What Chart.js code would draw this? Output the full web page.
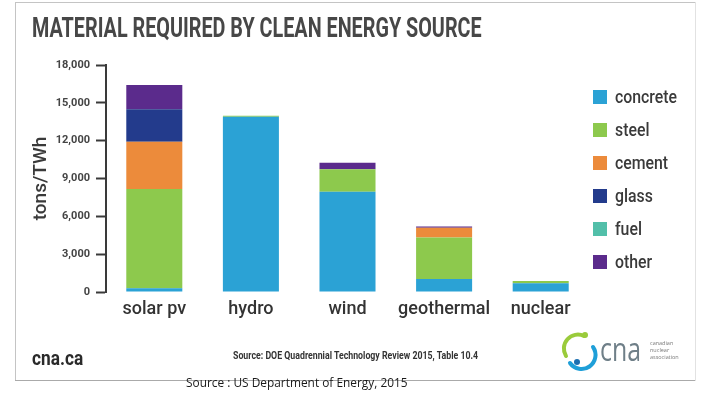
<!DOCTYPE html>
<html>
<head>
<meta charset="utf-8">
<script src="https://cdn.jsdelivr.net/npm/chart.js@4.4.1/dist/chart.umd.min.js"></script>
<style>
  html,body{margin:0;padding:0;background:#fff;}
  #wrap{position:relative;width:712px;height:396px;overflow:hidden;background:#fff;}
  #c{position:absolute;left:0;top:0;}
  .frame{position:absolute;background:#c4c4c4;}
  .txt{position:absolute;white-space:nowrap;transform-origin:0 50%;line-height:1;}
  #legend{position:absolute;left:593px;top:80px;}
  .lrow{display:flex;align-items:center;height:33px;}
  .lbox{width:14px;height:14px;margin-right:8px;}
  .ltxt{font-family:Roboto,sans-serif;font-weight:500;font-size:18px;color:#3a3a3a;transform-origin:0 50%;white-space:nowrap;}
</style>
</head>
<body>
<div id="wrap">
  <div class="frame" style="left:15px;top:2px;width:680px;height:1px;"></div>
  <div class="frame" style="left:15px;top:2px;width:1px;height:379px;"></div>
  <div class="frame" style="left:695px;top:2px;width:1px;height:379px;background:#e2e2e2;"></div>
  <div class="frame" style="left:15px;top:380px;width:680px;height:1px;background:#aaa;"></div>
  <canvas id="c" width="712" height="396"></canvas>
  <div class="txt" id="title" data-w="450" style="left:32px;top:14px;font-family:Roboto,sans-serif;font-weight:700;font-size:28px;color:#474747;">MATERIAL REQUIRED BY CLEAN ENERGY SOURCE</div>
  <div id="legend"></div>
  <div class="txt" id="site" data-w="51" style="left:32px;top:348px;font-family:Roboto,sans-serif;font-weight:700;font-size:20px;color:#2a2a2a;">cna.ca</div>
  <div class="txt" id="src1" data-w="245" style="left:233px;top:351px;font-family:Roboto,sans-serif;font-weight:700;font-size:10px;color:#333;">Source: DOE Quadrennial Technology Review 2015, Table 10.4</div>
  <div class="txt" id="src2" data-w="222" style="left:186px;top:376px;font-family:'Open Sans',sans-serif;font-size:13px;color:#1a1a1a;">Source : US Department of Energy, 2015</div>
  <svg style="position:absolute;left:558px;top:330px;" width="140" height="44" viewBox="0 0 140 44">
    <path d="M26 6 A14 14 0 0 0 8 26" fill="none" stroke="#9acb3b" stroke-width="4" stroke-linecap="round"/>
    <path d="M12 33 A14 14 0 0 0 35 17" fill="none" stroke="#1f9fd8" stroke-width="4" stroke-linecap="round"/>
    <circle cx="27" cy="5" r="3" fill="#9acb3b"/>
    <circle cx="19" cy="32" r="3" fill="#1b6fb0"/>
    <text x="42" y="31" font-family="Open Sans, sans-serif" font-size="32" fill="#6f7f88" textLength="41" lengthAdjust="spacingAndGlyphs">cna</text>
    <text x="92" y="15" font-family="Open Sans, sans-serif" font-size="5.5" fill="#7a7a7a">canadian</text>
    <text x="92" y="22" font-family="Open Sans, sans-serif" font-size="5.5" fill="#7a7a7a">nuclear</text>
    <text x="92" y="29" font-family="Open Sans, sans-serif" font-size="5.5" fill="#7a7a7a">association</text>
  </svg>
</div>
<script>
// ---- data ----
const categories = ['solar pv', 'hydro', 'wind', 'geothermal', 'nuclear'];
const concrete = [290, 13900, 7950, 1030, 690];
const steel    = [7880, 80, 1780, 3300, 180];
const cement   = [3750, 0, 0, 760, 0];
const glass    = [2570, 0, 0, 0, 0];
const fuel     = [0, 0, 0, 0, 0];
const other    = [1925, 0, 520, 110, 0];
const seriesNames = ['concrete', 'steel', 'cement', 'glass', 'fuel', 'other'];
const yTicks = [0, 3000, 6000, 9000, 12000, 15000, 18000];

const colors = {
  concrete: '#2ba2d5',
  steel: '#8dc94d',
  cement: '#ec8b3b',
  glass: '#233b8c',
  fuel: '#52bfa9',
  other: '#5b2b8c'
};
const seriesData = { concrete, steel, cement, glass, fuel, other };

const datasets = seriesNames.map(n => ({
  label: n,
  data: seriesData[n],
  backgroundColor: colors[n],
  borderWidth: 0,
  categoryPercentage: 1.0,
  barPercentage: 0.58
}));

const PAD_L = 28;
const chart = new Chart(document.getElementById('c'), {
  type: 'bar',
  data: { labels: categories, datasets },
  options: {
    responsive: false,
    animation: false,
    devicePixelRatio: 1,
    layout: { padding: { left: PAD_L, top: 65, right: 123, bottom: 74 } },
    plugins: { legend: { display: false }, tooltip: { enabled: false } },
    scales: {
      x: {
        stacked: true,
        grid: { display: false, drawTicks: false },
        border: { display: false },
        ticks: { padding: 7, color: '#333', maxRotation: 0, minRotation: 0, autoSkip: false,
                 font: { family: 'Roboto', size: 18, weight: '500' } },
        afterFit(s) { s.height = 30; }
      },
      y: {
        stacked: true,
        min: 0, max: 18000,
        afterBuildTicks(s) { s.ticks = yTicks.map(v => ({ value: v })); },
        grid: { drawOnChartArea: false, drawTicks: true, tickLength: 10, tickWidth: 2, tickColor: '#3a3a3a' },
        border: { display: true, color: '#3a3a3a', width: 2 },
        ticks: {
          padding: 6, color: '#444',
          font: { family: 'Roboto', size: 11, weight: '700' },
          callback: v => v.toLocaleString('en-US')
        },
        title: {
          display: true, text: 'tons/TWh', color: '#3a3a3a',
          font: { family: 'Roboto', size: 19, weight: '500' },
          padding: { top: 2, bottom: 0 }
        },
        afterFit(s) { s.width = 106 - PAD_L; }
      }
    }
  }
});

// HTML legend built from chart datasets
const legendEl = document.getElementById('legend');
chart.data.datasets.forEach(ds => {
  const row = document.createElement('div');
  row.className = 'lrow';
  const box = document.createElement('div');
  box.className = 'lbox';
  box.style.background = ds.backgroundColor;
  const t = document.createElement('div');
  t.className = 'ltxt';
  t.textContent = ds.label;
  row.appendChild(box); row.appendChild(t);
  legendEl.appendChild(row);
});

// fit some text widths horizontally (offsetWidth ignores transforms)
function fit() {
  document.querySelectorAll('.txt[data-w]').forEach(el => {
    const w = el.offsetWidth;
    const target = parseFloat(el.dataset.w);
    if (w > 0) el.style.transform = 'scaleX(' + (target / w) + ')';
  });
  document.querySelectorAll('.ltxt').forEach(el => { el.style.transform = 'scaleX(0.88)'; });
}
fit();
if (document.fonts && document.fonts.ready) { document.fonts.ready.then(() => { fit(); chart.update(); }); }
</script>
</body>
</html>
